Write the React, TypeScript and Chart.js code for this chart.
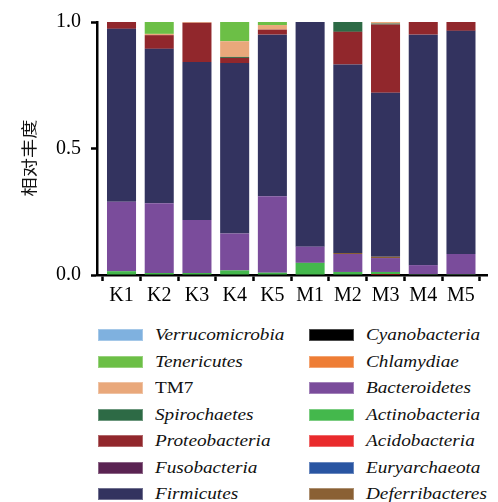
import React, { useEffect, useRef } from 'react';
import { Chart, registerables } from 'chart.js';
Chart.register(...registerables);

const samples = ['K1', 'K2', 'K3', 'K4', 'K5', 'M1', 'M2', 'M3', 'M4', 'M5'];
const yTicks = [0, 0.5, 1.0];
const yTitle = '相对丰度';

// stacked bottom -> top
const acidobacteria = [0, 0, 0, 0, 0, 0, 0, 0.004, 0, 0];
const actinobacteria = [0.015, 0.008, 0.008, 0.018, 0.009, 0.048, 0.012, 0.008, 0.003, 0.003];
const bacteroidetes = [0.275, 0.276, 0.209, 0.146, 0.302, 0.064, 0.071, 0.055, 0.036, 0.08];
const chlamydiae = [0, 0, 0, 0, 0, 0, 0, 0, 0, 0];
const cyanobacteria = [0, 0, 0, 0, 0, 0, 0, 0, 0, 0];
const deferribacteres = [0, 0, 0, 0, 0, 0, 0.004, 0.005, 0, 0];
const euryarchaeota = [0, 0, 0, 0, 0, 0, 0, 0, 0, 0];
const firmicutes = [0.683, 0.61, 0.625, 0.674, 0.639, 0.888, 0.745, 0.648, 0.911, 0.882];
const fusobacteria = [0, 0, 0, 0, 0, 0, 0, 0, 0, 0];
const proteobacteria = [0.027, 0.054, 0.155, 0.02, 0.02, 0, 0.129, 0.27, 0.05, 0.035];
const spirochaetes = [0, 0, 0, 0.004, 0, 0, 0.039, 0.004, 0, 0];
const tm7 = [0, 0.005, 0.003, 0.062, 0.018, 0, 0, 0.006, 0, 0];
const tenericutes = [0, 0.047, 0, 0.076, 0.012, 0, 0, 0, 0, 0];
const verrucomicrobia = [0, 0, 0, 0, 0, 0, 0, 0, 0, 0];

const series = [
  { name: 'Acidobacteria', data: acidobacteria, color: '#e92a2c', italic: true },
  { name: 'Actinobacteria', data: actinobacteria, color: '#44b84c', italic: true },
  { name: 'Bacteroidetes', data: bacteroidetes, color: '#7a4c9b', italic: true },
  { name: 'Chlamydiae', data: chlamydiae, color: '#ee7d35', italic: true },
  { name: 'Cyanobacteria', data: cyanobacteria, color: '#000000', italic: true },
  { name: 'Deferribacteres', data: deferribacteres, color: '#8a6034', italic: true },
  { name: 'Euryarchaeota', data: euryarchaeota, color: '#2955a2', italic: true },
  { name: 'Firmicutes', data: firmicutes, color: '#33335f', italic: true },
  { name: 'Fusobacteria', data: fusobacteria, color: '#5a2352', italic: true },
  { name: 'Proteobacteria', data: proteobacteria, color: '#91272c', italic: true },
  { name: 'Spirochaetes', data: spirochaetes, color: '#2d6a45', italic: true },
  { name: 'TM7', data: tm7, color: '#e9a87b', italic: false },
  { name: 'Tenericutes', data: tenericutes, color: '#6cbf46', italic: true },
  { name: 'Verrucomicrobia', data: verrucomicrobia, color: '#7fb1df', italic: true },
];

const legendLeft = ['Verrucomicrobia', 'Tenericutes', 'TM7', 'Spirochaetes', 'Proteobacteria', 'Fusobacteria', 'Firmicutes'];
const legendRight = ['Cyanobacteria', 'Chlamydiae', 'Bacteroidetes', 'Actinobacteria', 'Acidobacteria', 'Euryarchaeota', 'Deferribacteres'];

const serif = "'Liberation Serif', 'Times New Roman', Tinos, serif";

function LegendColumn({ names, left }: { names: string[]; left: number }) {
  return (
    <div style={{ position: 'absolute', left, top: 322 }}>
      {names.map((n) => {
        const s = series.find((x) => x.name === n)!;
        return (
          <div key={n} style={{ height: 26.5, display: 'flex', alignItems: 'center' }}>
            <div style={{ width: 45, height: 12, background: s.color, boxShadow: 'inset 0 0 0 1px rgba(255,255,255,0.3)' }} />
            <span
              style={{
                marginLeft: 12,
                fontFamily: serif,
                fontStyle: s.italic ? 'italic' : 'normal',
                fontSize: 16,
                color: '#111',
                display: 'inline-block',
                transform: 'scaleX(1.2)',
                transformOrigin: 'left center',
                whiteSpace: 'nowrap',
                lineHeight: '16px',
              }}
            >
              {n}
            </span>
          </div>
        );
      })}
    </div>
  );
}

export default function App() {
  const ref = useRef<HTMLCanvasElement>(null);
  useEffect(() => {
    let chart: Chart | null = null;
    let cancelled = false;
    const make = () => {
      if (cancelled || !ref.current) return;
      chart = new Chart(ref.current, {
        type: 'bar',
        data: {
          datasets: series.map((s) => ({
            label: s.name,
            data: s.data.map((v, i) => ({ x: i, y: v })),
            backgroundColor: s.color,
            borderWidth: 0,
            barPercentage: 0.77,
            categoryPercentage: 1,
          })),
        },
        options: {
          responsive: false,
          animation: false,
          layout: { padding: { top: 16, right: 11, left: 0, bottom: 0 } },
          plugins: { legend: { display: false }, tooltip: { enabled: false } },
          scales: {
            x: {
              type: 'linear',
              stacked: true,
              min: -0.65,
              max: 9.69,
              offset: false,
              afterBuildTicks: (axis: any) => {
                axis.ticks = samples.map((_, i) => ({ value: i }));
              },
              afterFit: (axis: any) => {
                axis.height = 45;
              },
              ticks: {
                autoSkip: false,
                maxRotation: 0,
                padding: 3,
                color: '#000',
                font: { family: serif, size: 20 },
                callback: (v: any) => samples[v] ?? '',
              },
              grid: { drawOnChartArea: false, drawTicks: true, tickLength: 6, tickWidth: 2.5, tickColor: '#000' },
              border: { display: true, color: '#000', width: 2.5 },
            },
            y: {
              stacked: true,
              min: 0,
              max: 1,
              afterBuildTicks: (axis: any) => {
                axis.ticks = yTicks.map((v) => ({ value: v }));
              },
              afterFit: (axis: any) => {
                axis.width = 97;
              },
              ticks: {
                padding: 10,
                color: '#000',
                font: { family: serif, size: 20 },
                callback: (v: any) => Number(v).toFixed(1),
              },
              grid: { drawOnChartArea: false, drawTicks: true, tickLength: 6, tickWidth: 2.5, tickColor: '#000' },
              border: { display: true, color: '#000', width: 2.5 },
            },
          },
        },
      } as any);
    };
    const fonts: any = (document as any).fonts;
    if (fonts && fonts.load) {
      Promise.all([fonts.load("20px 'Liberation Serif'"), fonts.load("italic 16px 'Liberation Serif'")])
        .catch(() => null)
        .then(make);
    } else {
      make();
    }
    return () => {
      cancelled = true;
      if (chart) chart.destroy();
    };
  }, []);

  return (
    <div style={{ position: 'absolute', left: 0, top: 0, width: 498, height: 502, background: '#fff', overflow: 'hidden' }}>
      <canvas ref={ref} width={498} height={320} style={{ position: 'absolute', left: 0, top: 0, width: 498, height: 320 }} />
      <div
        style={{
          position: 'absolute',
          left: -22,
          top: 146,
          width: 100,
          height: 24,
          lineHeight: '24px',
          textAlign: 'center',
          fontFamily: '"Noto Sans CJK SC", sans-serif',
          fontSize: 16,
          color: '#111',
          transform: 'rotate(-90deg) scaleX(1.2)',
        }}
      >
        {yTitle}
      </div>
      <LegendColumn names={legendLeft} left={98} />
      <LegendColumn names={legendRight} left={309} />
    </div>
  );
}
